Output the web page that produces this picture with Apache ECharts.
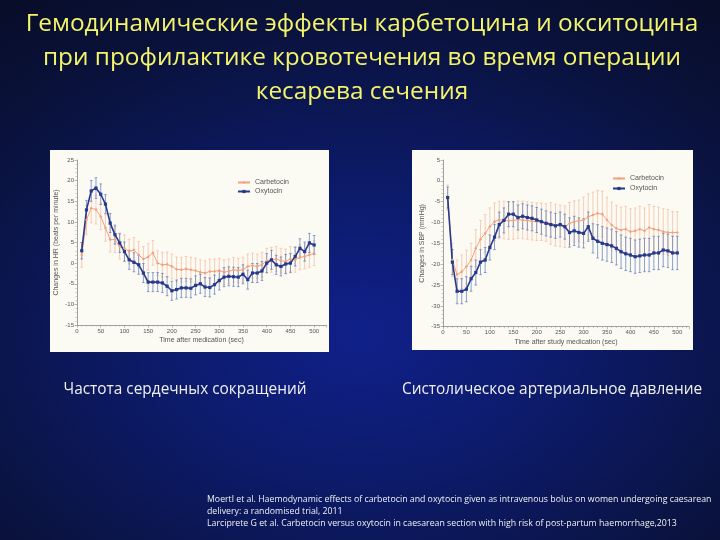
<!DOCTYPE html>
<html>
<head>
<meta charset="utf-8">
<script src="https://cdn.jsdelivr.net/npm/echarts@6/dist/echarts.min.js"></script>
<style>
html,body{margin:0;padding:0;width:720px;height:540px;overflow:hidden;}
body{background:radial-gradient(ellipse 80% 75% at 50% 62%, #10208a 0%, #0c1a66 40%, #0a133f 75%, #080d2a 100%);}
#c{width:720px;height:540px;}
</style>
</head>
<body>
<div id="c"></div>
<script>
// ---- data ----
const time = [10,20,30,40,50,60,70,80,90,100,110,120,130,140,150,160,170,180,190,200,
  210,220,230,240,250,260,270,280,290,300,310,320,330,340,350,360,370,380,390,400,
  410,420,430,440,450,460,470,480,490,500];
const xTicks = [0,50,100,150,200,250,300,350,400,450,500];

// Heart rate change (beats per minute)
const hrCarbetocin = [2,10.5,13.3,13,11.3,8.5,5.7,5.7,4,3.6,2.8,3.2,2,1,1.5,2.5,0,-0.4,-0.3,-0.8,
  -1.5,-1.6,-1.4,-1.6,-1.8,-2.2,-2.4,-2,-2,-1.8,-2.2,-2,-1.6,-1.8,-1.6,-0.8,-0.6,-0.8,-0.4,0.6,
  0.8,1,0.6,0.4,1,0.8,1.4,1.6,2,2.4];
const hrCarbErr = [3,3.5,3.5,3.5,3.2,3.2,3,3.2,3,3.2,3,3,3.2,3,3.2,3,3,3,3,3,
  3,3,3,3,3,3,3,3,3,3,3,3,3,3,3,3,3,3,3,3,
  3,3,3,3,3,3,3,3,3,3];
const hrOxytocin = [3,12.9,17.5,18.2,16.7,14.3,9.7,6.9,4.9,2.8,0.8,0.2,-0.4,-2.4,-4.6,-4.6,-4.6,-4.8,-5.6,-6.7,
  -6.4,-6,-6,-6.1,-5.4,-5,-5.8,-5.9,-5.2,-4.2,-3.4,-3.2,-3.3,-3.4,-2.7,-4,-2.4,-2.4,-1.9,0,
  0.8,-0.4,-0.8,-0.2,0,1.6,3.6,2.8,4.9,4.4];
const hrOxyErr = [2,2.3,2.5,2.5,2.5,2.3,2.3,2.3,2.3,2.3,2.3,2.3,2.3,2.3,2.3,2.3,2.3,2.3,2.3,2.3,
  2.3,2.3,2.3,2.3,2.3,2.3,2.3,2.3,2.3,2.3,2.3,2.3,2.3,2.3,2.3,2.3,2.3,2.3,2.3,2.3,
  2.3,2.3,2.3,2.3,2.3,2.3,2.3,2.3,2.3,2.3];

// Systolic blood pressure change (mmHg)
const sbpCarbetocin = [-4,-19,-22.5,-21.8,-20.6,-19,-16.2,-14,-12.6,-11,-9.8,-9.4,-9.4,-9.6,-9.5,-9.3,-9.4,-9.5,-9.7,-9.8,
  -9.8,-10,-10.2,-10.6,-10.8,-11,-10.2,-9.8,-9.6,-9.4,-8.6,-8.2,-7.8,-8,-9.4,-10.6,-11.4,-11.8,-11.6,-12.2,
  -12,-11.6,-12,-11.2,-11.6,-11.8,-12.2,-12.4,-12.4,-12.4];
const sbpCarbErr = [3,4,3.5,4,4,4,4.5,4.5,4.5,4.5,4.5,4.5,4.5,4.5,4.5,4.5,4.5,4.5,4.5,4.5,
  4.5,4.5,5,5,5,5,5,5,5,5.5,5.5,5.5,5.5,5.5,5.5,5.5,5.5,5.5,5.5,5.5,
  5.5,5.5,5.5,5.5,5.5,5.5,5.5,5.5,5,5];
const sbpOxytocin = [-4,-19.5,-26.5,-26.5,-26,-23.5,-22,-19.5,-19,-16,-13.5,-10.5,-9.5,-8,-8,-8.8,-8.5,-8.8,-9,-9.4,
  -9.8,-10.2,-10.5,-10.8,-10.5,-11,-12.4,-12,-12.4,-12.6,-11,-13.8,-14.5,-15,-15.3,-15.6,-16.2,-17,-17.5,-17.8,
  -18.2,-18,-17.8,-17.8,-17.3,-17.3,-16.6,-16.8,-17.3,-17.3];
const sbpOxyErr = [2.5,3,3,3,3,3,3,3,3,3,3,3,3,3,3,3,3,3,3,3,
  3,3,3,3,3,3,3.5,3.5,3.5,3.5,3.5,3.5,4,4,4,4,4,4,4,4,
  4,4,4,4,4,4,4,4,4,4];

// ---- texts ----
const titleLines = ['Гемодинамические эффекты карбетоцина и окситоцина',
  'при профилактике кровотечения во время операции',
  'кесарева сечения'];
const captionHR = 'Частота сердечных сокращений';
const captionSBP = 'Систолическое артериальное давление';
const refs = ['Moertl et al. Haemodynamic effects of carbetocin and oxytocin given as intravenous bolus on women undergoing caesarean',
  'delivery: a randomised trial, 2011',
  'Larciprete G et al. Carbetocin versus oxytocin in caesarean section with high risk of post-partum haemorrhage,2013'];

const ORANGE = '#f2a07e', ORANGE_BAR = '#f5b79c';
const BLUE = '#27398c', BLUE_BAR = '#5a78b8';

function pairs(v){ return time.map((t,i)=>[t, v[i]]); }
function errData(v,e){ return time.map((t,i)=>[t, v[i]-e[i], v[i]+e[i]]); }
function errSeries(v,e,color,xi,yi){
  return {
    type:'custom', xAxisIndex:xi, yAxisIndex:yi, z:1, silent:true,
    data: errData(v,e),
    renderItem:function(params, api){
      const x = api.value(0);
      const a = api.coord([x, api.value(1)]);
      const b = api.coord([x, api.value(2)]);
      const w = 1.3;
      const st = {stroke:color, lineWidth:0.7};
      return {type:'group', children:[
        {type:'line', shape:{x1:a[0],y1:a[1],x2:b[0],y2:b[1]}, style:st},
        {type:'line', shape:{x1:a[0]-w,y1:a[1],x2:a[0]+w,y2:a[1]}, style:st},
        {type:'line', shape:{x1:b[0]-w,y1:b[1],x2:b[0]+w,y2:b[1]}, style:st}
      ]};
    }
  };
}
function lineSeries(name,v,color,symbol,xi,yi,lw){
  return {name:name, type:'line', xAxisIndex:xi, yAxisIndex:yi, z:3,
    data:pairs(v), symbol:symbol, symbolSize:3.2, showSymbol:true,
    lineStyle:{color:color, width:lw}, itemStyle:{color:color}};
}

const axisCommon = {
  axisLine:{show:true, onZero:false, lineStyle:{color:'#8a8a8a', width:0.8}},
  axisTick:{show:true, length:2.5, lineStyle:{color:'#8a8a8a', width:0.6}},
  minorTick:{show:true, splitNumber:5, length:1.5, lineStyle:{color:'#9a9a9a', width:0.5}},
  splitLine:{show:false},
  axisLabel:{fontSize:6, color:'#555', fontFamily:'Liberation Sans', margin:3},
  nameTextStyle:{fontSize:7, color:'#555', fontFamily:'Liberation Sans'}
};
function xAx(gi,name){
  return Object.assign({}, axisCommon, {type:'value', gridIndex:gi, min:0, max:525, interval:50,
    name:name, nameLocation:'middle', nameGap:12,
    axisLabel:Object.assign({}, axisCommon.axisLabel, {
      formatter:function(v){ return xTicks.indexOf(v)>=0 ? String(v) : ''; }})});
}
function yAx(gi,name,min,max){
  return Object.assign({}, axisCommon, {type:'value', gridIndex:gi, min:min, max:max, interval:5,
    name:name, nameLocation:'middle', nameGap:17, nameRotate:90});
}

const chart = echarts.init(document.getElementById('c'), null, {renderer:'canvas'});
chart.setOption({
  backgroundColor:'transparent',
  animation:false,
  graphic:[
    {type:'rect', left:50, top:150, shape:{width:279, height:202}, style:{fill:'#fcfbf3'}, z:-10},
    {type:'rect', left:412, top:150, shape:{width:281, height:200}, style:{fill:'#fcfbf3'}, z:-10},
    {type:'text', x:362, y:7, style:{text:titleLines.join('\n'), fill:'#f4f46a',
      font:'24.4px "Open Sans"', lineHeight:34, align:'center'}},
    {type:'text', x:185, y:390, style:{text:captionHR, fill:'#f0f0f0', font:'15.4px "Open Sans"', align:'center', verticalAlign:'middle'}},
    {type:'text', x:552, y:390, style:{text:captionSBP, fill:'#f0f0f0', font:'15.4px "Open Sans"', align:'center', verticalAlign:'middle'}},
    {type:'text', x:207, y:493, style:{text:refs.join('\n'), fill:'#f0f0f0', font:'8.75px "Open Sans"', lineHeight:12}}
  ],
  legend:[
    {orient:'vertical', left:232, top:174, itemWidth:12, itemHeight:4, itemGap:2,
      data:['Carbetocin','Oxytocin'], textStyle:{fontSize:7, color:'#555', fontFamily:'Liberation Sans'}, selectedMode:false},
    {orient:'vertical', left:607, top:170, itemWidth:12, itemHeight:4, itemGap:3,
      data:['Carbetocin','Oxytocin'], textStyle:{fontSize:7, color:'#555', fontFamily:'Liberation Sans'}, selectedMode:false}
  ],
  grid:[
    {left:77, top:160, width:249, height:165},
    {left:443, top:160, width:246, height:166.7}
  ],
  xAxis:[xAx(0,'Time after medication (sec)'), xAx(1,'Time after study medication (sec)')],
  yAxis:[yAx(0,'Changes in HR (beats per minute)',-15,25), yAx(1,'Changes in SBP (mmHg)',-35,5)],
  series:[
    errSeries(hrCarbetocin,hrCarbErr,ORANGE_BAR,0,0),
    errSeries(hrOxytocin,hrOxyErr,BLUE_BAR,0,0),
    lineSeries('Carbetocin',hrCarbetocin,ORANGE,'diamond',0,0,1),
    lineSeries('Oxytocin',hrOxytocin,BLUE,'rect',0,0,1.6),
    errSeries(sbpCarbetocin,sbpCarbErr,ORANGE_BAR,1,1),
    errSeries(sbpOxytocin,sbpOxyErr,BLUE_BAR,1,1),
    lineSeries('Carbetocin',sbpCarbetocin,ORANGE,'diamond',1,1,1),
    lineSeries('Oxytocin',sbpOxytocin,BLUE,'rect',1,1,1.6)
  ]
});
</script>
</body>
</html>
